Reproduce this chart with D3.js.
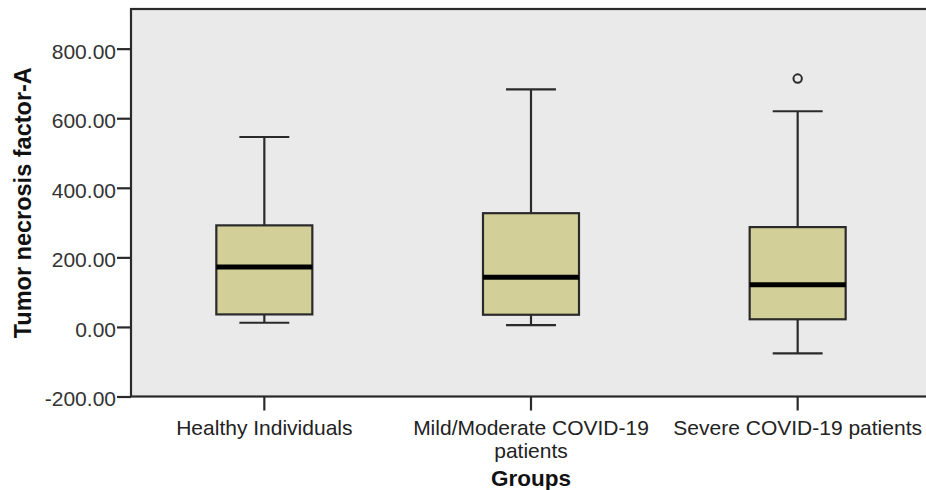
<!DOCTYPE html>
<html>
<head>
<meta charset="utf-8">
<script src="https://cdn.jsdelivr.net/npm/d3@7"></script>
<style>
  html, body { margin: 0; padding: 0; background: #ffffff; }
  svg { display: block; font-family: "Liberation Sans", Arial, sans-serif; }
</style>
</head>
<body>
<svg id="chart" width="926" height="490"></svg>
<script>
const categories = ["Healthy Individuals", "Mild/Moderate COVID-19 patients", "Severe COVID-19 patients"];
const lowerWhisker = [12, 5, -76];
const q1Values = [36, 35, 22];
const medianValues = [172, 143, 121];
const q3Values = [292, 327, 287];
const upperWhisker = [546, 683, 620];
const outlierValues = [[], [], [714]];
const yTickValues = [-200, 0, 200, 400, 600, 800];
const yTitle = "Tumor necrosis factor-A";
const xTitle = "Groups";

const svg = d3.select("#chart");
const mLeft = 131, mRight = 931, mTop = 9, mBottom = 396.5;
const lineColor = "#2a2a2a";

const x = d3.scaleBand().domain(categories).range([mLeft, mRight]).padding(0);
const y = d3.scaleLinear().domain([-200, 914]).range([mBottom, mTop]);

// plot background
svg.append("rect").attr("x", mLeft).attr("y", mTop)
  .attr("width", mRight - mLeft).attr("height", mBottom - mTop)
  .attr("fill", "#eaeaea").attr("stroke", lineColor).attr("stroke-width", 2.2);

const boxW = x.bandwidth() * 0.36;
const capW = boxW * 0.52;

const data = categories.map((c, i) => ({
  c, lo: lowerWhisker[i], q1: q1Values[i], med: medianValues[i], q3: q3Values[i], hi: upperWhisker[i], out: outlierValues[i]
}));

const g = svg.append("g");
data.forEach(d => {
  const cx = x(d.c) + x.bandwidth() / 2;
  g.append("line").attr("x1", cx).attr("x2", cx).attr("y1", y(d.q3)).attr("y2", y(d.hi))
    .attr("stroke", lineColor).attr("stroke-width", 2.2);
  g.append("line").attr("x1", cx).attr("x2", cx).attr("y1", y(d.q1)).attr("y2", y(d.lo))
    .attr("stroke", lineColor).attr("stroke-width", 2.2);
  g.append("line").attr("x1", cx - capW / 2).attr("x2", cx + capW / 2).attr("y1", y(d.hi)).attr("y2", y(d.hi))
    .attr("stroke", lineColor).attr("stroke-width", 2.2);
  g.append("line").attr("x1", cx - capW / 2).attr("x2", cx + capW / 2).attr("y1", y(d.lo)).attr("y2", y(d.lo))
    .attr("stroke", lineColor).attr("stroke-width", 2.2);
  g.append("rect").attr("x", cx - boxW / 2).attr("y", y(d.q3))
    .attr("width", boxW).attr("height", y(d.q1) - y(d.q3))
    .attr("fill", "#d3cf99").attr("stroke", lineColor).attr("stroke-width", 2.2);
  g.append("line").attr("x1", cx - boxW / 2).attr("x2", cx + boxW / 2).attr("y1", y(d.med)).attr("y2", y(d.med))
    .attr("stroke", "#000").attr("stroke-width", 5);
  d.out.forEach(v => {
    g.append("circle").attr("cx", cx).attr("cy", y(v)).attr("r", 4.2)
      .attr("fill", "none").attr("stroke", lineColor).attr("stroke-width", 2);
  });
});

// y axis
const fmt = d3.format(".2f");
const yAxis = d3.axisLeft(y).tickValues(yTickValues).tickFormat(d => fmt(d).replace("\u2212", "-"))
  .tickSizeInner(14).tickSizeOuter(0).tickPadding(1);
const ya = svg.append("g").attr("transform", `translate(${mLeft},0)`).call(yAxis);
ya.select(".domain").remove();
ya.selectAll(".tick line").attr("stroke", lineColor).attr("stroke-width", 2.2);
ya.selectAll(".tick text").attr("font-size", 21).attr("fill", "#333").attr("dy", "0.45em");

// x axis
const xAxis = d3.axisBottom(x).tickSizeInner(14).tickSizeOuter(0).tickPadding(6);
const xa = svg.append("g").attr("transform", `translate(0,${mBottom})`).call(xAxis);
xa.select(".domain").remove();
xa.selectAll(".tick line").attr("stroke", lineColor).attr("stroke-width", 2.2);
xa.selectAll(".tick text").attr("font-size", 21).attr("fill", "#222").attr("dy", "0.88em");

function wrap(text, width) {
  text.each(function() {
    const t = d3.select(this);
    const words = t.text().split(/\s+/);
    const yAttr = t.attr("y"), dy = t.attr("dy");
    t.text(null);
    let line = [], lineNum = 0;
    let tspan = t.append("tspan").attr("x", 0).attr("y", yAttr).attr("dy", dy);
    words.forEach(w => {
      line.push(w);
      tspan.text(line.join(" "));
      if (tspan.node().getComputedTextLength() > width && line.length > 1) {
        line.pop();
        tspan.text(line.join(" "));
        line = [w];
        lineNum++;
        tspan = t.append("tspan").attr("x", 0).attr("y", yAttr).attr("dy", (0.88 + lineNum * 1.08) + "em").text(w);
      }
    });
  });
}
xa.selectAll(".tick text").call(wrap, 262);

// titles
svg.append("text").attr("transform", `translate(31,${(mTop + mBottom) / 2}) rotate(-90)`)
  .attr("text-anchor", "middle").attr("font-size", 23.5).attr("font-weight", "bold").attr("fill", "#111")
  .text(yTitle);
svg.append("text").attr("x", x(categories[1]) + x.bandwidth() / 2).attr("y", 486)
  .attr("text-anchor", "middle").attr("font-size", 22.5).attr("font-weight", "bold").attr("fill", "#111")
  .text(xTitle);
</script>
</body>
</html>
